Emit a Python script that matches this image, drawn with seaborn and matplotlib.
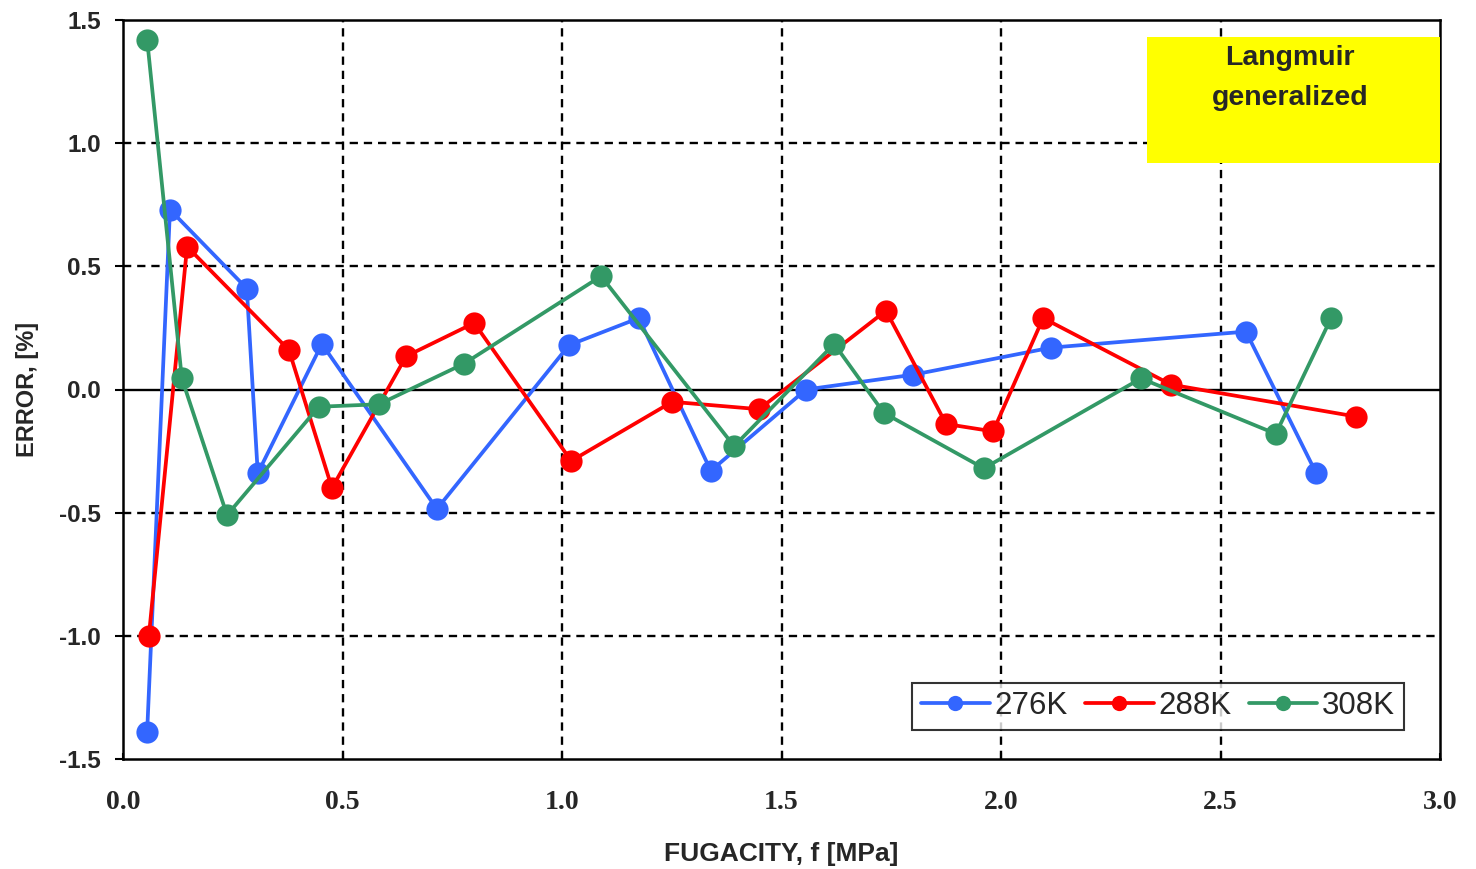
import matplotlib
matplotlib.use("Agg")
import matplotlib.pyplot as plt
import seaborn as sns
import pandas as pd
from matplotlib.patches import Rectangle
from matplotlib.lines import Line2D

# ---- data ----
series_names = ["276K", "288K", "308K"]

f_276 = [0.055, 0.107, 0.282, 0.307, 0.453, 0.715, 1.016, 1.175, 1.339, 1.556, 1.800, 2.114, 2.558, 2.718]
e_276 = [-1.39, 0.73, 0.41, -0.34, 0.185, -0.485, 0.18, 0.29, -0.33, 0.00, 0.06, 0.17, 0.235, -0.34]

f_288 = [0.059, 0.146, 0.378, 0.476, 0.645, 0.800, 1.021, 1.251, 1.449, 1.738, 1.875, 1.982, 2.096, 2.387, 2.809]
e_288 = [-1.00, 0.58, 0.16, -0.40, 0.135, 0.27, -0.29, -0.05, -0.08, 0.32, -0.14, -0.17, 0.29, 0.02, -0.11]

f_308 = [0.055, 0.134, 0.237, 0.446, 0.583, 0.777, 1.089, 1.392, 1.620, 1.733, 1.961, 2.319, 2.626, 2.752]
e_308 = [1.42, 0.045, -0.51, -0.07, -0.06, 0.105, 0.46, -0.23, 0.185, -0.095, -0.32, 0.045, -0.18, 0.29]

colors = ["#3366FF", "#FF0000", "#339966"]

x_ticks = [0.0, 0.5, 1.0, 1.5, 2.0, 2.5, 3.0]
y_ticks = [-1.5, -1.0, -0.5, 0.0, 0.5, 1.0, 1.5]

x_label = "FUGACITY, f [MPa]"
y_label = "ERROR, [%]"
box_lines = ["Langmuir", "generalized"]

# ---- build long table ----
frames = []
for name, fx, ey in zip(series_names, [f_276, f_288, f_308], [e_276, e_288, e_308]):
    frames.append(pd.DataFrame({"f": fx, "err": ey, "T": name}))
df = pd.concat(frames, ignore_index=True)

sns.set_theme(style="white")
plt.rcParams["font.family"] = ["Liberation Sans", "DejaVu Sans"]

fig = plt.figure(figsize=(14.76, 8.69), dpi=100)
ax = fig.add_axes([123 / 1476, 1 - 759 / 869, (1440 - 123) / 1476, (759 - 20) / 869])

sns.lineplot(data=df, x="f", y="err", hue="T", palette=dict(zip(series_names, colors)),
             marker="o", markersize=16, markeredgewidth=0, linewidth=2.7,
             sort=False, estimator=None, ax=ax, legend=False, zorder=3)

ax.set_xlim(0, 3.0)
ax.set_ylim(-1.5, 1.5)
ax.set_xticks(x_ticks)
ax.set_yticks(y_ticks)
ax.set_xticklabels([f"{v:.1f}" for v in x_ticks], fontfamily="Liberation Serif",
                   fontweight="bold", fontsize=20)
ax.set_yticklabels([f"{v:.1f}" for v in y_ticks], fontweight="bold", fontsize=17.5)

# grid: dashed black, zero line solid
for xv in x_ticks[1:-1]:
    ax.axvline(xv, color="black", lw=1.7, ls=(0, (3.5, 2.5)), zorder=1)
for yv in y_ticks[1:-1]:
    if yv == 0:
        ax.axhline(yv, color="black", lw=1.7, zorder=1)
    else:
        ax.axhline(yv, color="black", lw=1.7, ls=(0, (3.5, 2.5)), zorder=1)

for s in ax.spines.values():
    s.set_color("black")
    s.set_linewidth(1.8)

ax.tick_params(axis="y", direction="out", length=6, width=1.5, color="black", pad=10, left=True)
ax.tick_params(axis="x", direction="in", length=4, width=1.5, color="black", pad=22, bottom=True)

ax.set_xlabel(x_label, fontweight="bold", fontsize=19, labelpad=20)
ax.set_ylabel(y_label, fontweight="bold", fontsize=17, labelpad=14)

# yellow annotation box
ax.add_patch(Rectangle((0.7775, 0.8065), 0.2225, 0.1705, transform=ax.transAxes,
                       facecolor="#FFFF00", edgecolor="none", zorder=4))
ax.text(0.886, 0.9486, box_lines[0], transform=ax.transAxes, ha="center", va="center",
        fontweight="bold", fontsize=20.5, zorder=5)
ax.text(0.886, 0.8945, box_lines[1], transform=ax.transAxes, ha="center", va="center",
        fontweight="bold", fontsize=20.5, zorder=5)

# legend
handles = [Line2D([], [], color=c, lw=2.7, marker="o", markersize=11, markeredgewidth=0)
           for c in colors]
leg = ax.legend(handles, series_names, loc="lower right", bbox_to_anchor=(0.9725, 0.039),
                ncol=3, fontsize=22.5, frameon=True, fancybox=False, handlelength=2.2,
                handletextpad=0.15, columnspacing=0.55, borderpad=0.28, borderaxespad=0)
leg.get_frame().set_edgecolor("black")
leg.get_frame().set_linewidth(1.5)
leg.set_zorder(6)

fig.savefig("out.png", dpi=100)
